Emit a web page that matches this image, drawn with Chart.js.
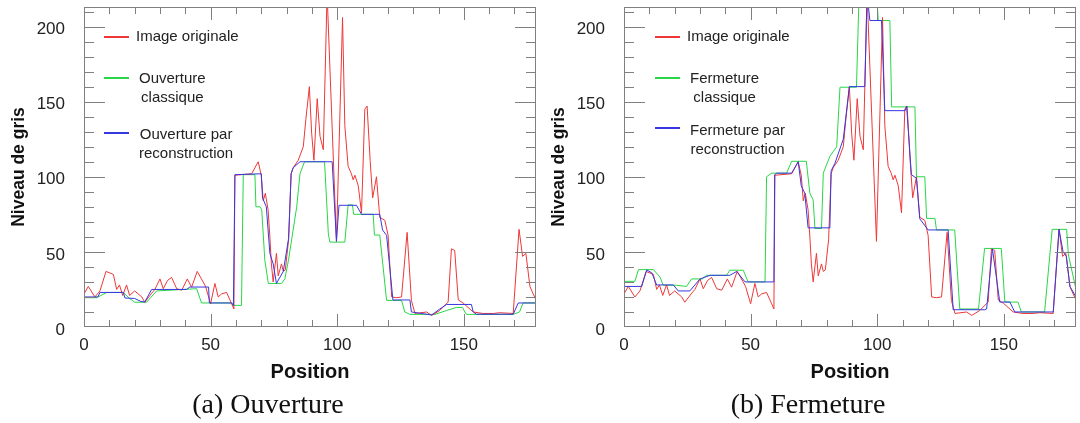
<!DOCTYPE html>
<html>
<head>
<meta charset="utf-8">
<script src="https://cdn.jsdelivr.net/npm/chart.js@4"></script>
<style>
  body { margin: 0; background: #fff; }
  .wrap { display: flex; width: 1080px; height: 423px; }
  canvas { display: block; }
</style>
</head>
<body>
<div class="wrap">
  <canvas id="chartA" width="540" height="423"></canvas>
  <canvas id="chartB" width="540" height="423"></canvas>
</div>
<script>
// original grey-level profile (shared by both plots)
const origX = [0, 1.7, 4.3, 6.3, 8.7, 11.6, 12.9, 14, 15.3, 16.8, 18, 20, 22.8, 24, 26.5, 28, 30, 31.3, 33, 34.6,
  36.6, 38.6, 40.8, 42.5, 44.7, 46.4, 48, 50, 51.7, 53, 54.3, 56.3, 58.3, 59.2, 59.6, 66.2, 68.8, 70, 70.8, 71.6,
  72.7, 73.4, 74, 74.7, 76, 76.7, 78, 78.7, 79.5, 80.8, 81.8, 82.6, 84.6, 86.6, 87.6, 89, 89.9, 90.8, 92.1, 93.2,
  94.5, 96, 99.7, 102.1, 103, 104.3, 105.6, 106.3, 107, 108.3, 109.6, 110.9, 111.8, 113, 114, 115.5, 116.8, 118.8, 120.1, 121.5,
  123.4, 125.4, 127.6, 129.3, 130.7, 135.3, 137.3, 140.5, 143.8, 145.1, 146.4, 147.8, 149.7, 153.7, 157.6, 161.6, 164.2, 169.5, 171.8, 173.2,
  174.5, 176.1, 177.4, 178.5];
const origY = [22, 27, 20, 24, 37, 35, 25, 28, 21, 28, 21, 24, 20, 16.5, 22, 25, 32, 25.5, 31, 33,
  25.5, 24.5, 32, 26.5, 37, 32, 27, 15.5, 29, 20, 22, 23, 15.5, 12, 101, 102, 110, 101, 84, 89,
  78, 60, 42, 30, 49, 34, 42, 37, 38, 58, 102, 106, 111, 120, 138, 160, 129, 111, 152, 127,
  118, 222, 57, 206, 134, 107, 102, 98, 101, 94, 76, 145, 147, 111, 86, 100, 73, 71, 61, 20,
  19.5, 20, 63, 17.7, 9, 10, 7.7, 11, 16.6, 52, 51, 18, 16, 10, 9, 9, 9.5, 9, 65, 47,
  49, 27, 22, 18];

// (a) ouverture classique
const openX = [0, 5, 9, 15.5, 18, 20, 24.7, 28.7, 44.5, 46.4, 58.3, 59, 62.2, 62.9, 67.5, 67.9, 69.5, 70.2, 71.4, 72.8,
  78, 79.3, 80.7, 84, 85.3, 87.1, 95, 96.5, 97.1, 103, 104.3, 106, 106.5, 114.2, 114.7, 116.8, 119.5, 125.4, 126.7, 128.7,
  138.6, 143.2, 147, 149.5, 150.4, 151, 169.5, 172, 173.4, 178.5];
const openY = [19.5, 19.5, 23, 23, 19, 16.5, 16.5, 24, 25.5, 16, 16, 14.4, 14.4, 101.4, 101.4, 80, 80, 78, 44.5, 29,
  29, 32, 44, 80, 102, 110, 110, 62, 56.5, 56.5, 81.3, 81.3, 75, 75, 61.2, 61.2, 17.7, 17.7, 10, 8.4,
  8.4, 11, 13, 13, 10, 8.4, 8.4, 10, 16, 16];

// (a) ouverture par reconstruction
const openRecX = [0, 5.5, 6.3, 15.5, 16.2, 20, 22.5, 24, 26.7, 40.5, 41.8, 49.2, 49.5, 58.3, 59, 59.6, 70, 70.5, 72, 73.4,
  74.7, 76, 78.7, 80.8, 81.8, 82.6, 85.3, 98, 99.7, 100.7, 107.6, 109.6, 116.8, 117.9, 119.5, 122, 128.7, 129.3, 137.3, 140.5,
  143.2, 153, 153.7, 155, 169.5, 171.5, 178.5];
const openRecY = [20, 20, 23, 23, 19.3, 19, 17, 16.6, 25, 25, 26.6, 26.6, 16, 16, 14.4, 101.4, 102, 86, 80, 49,
  42, 29, 37, 59, 102, 106, 110, 110, 57, 81, 81, 75, 75, 64.6, 61, 18, 18, 10, 8, 12,
  15, 15, 10, 8.5, 8.5, 16, 16];

// (b) fermeture classique
const closeX = [0, 4.3, 5.7, 11.6, 14.2, 15.5, 20.8, 24.7, 26.7, 31, 32.6, 40.5, 41.8, 47.1, 49, 55.7, 56.3, 58.3, 64.2, 66.2,
  72, 73.4, 74.7, 75.4, 78, 78.7, 81.3, 84, 85.3, 91.8, 92.9, 99.7, 100.4, 105, 105.7, 114.9, 115.5, 118.8, 119.5, 122.8,
  123.4, 130.6, 132.6, 140, 142.4, 149, 150.4, 155.6, 156.9, 166.1, 169.1, 174.8, 175.5, 178.5];
const closeY = [30.4, 30.4, 38.2, 38.2, 33.3, 27.8, 27.8, 27, 32, 32, 34.4, 34.4, 37.8, 37.8, 30, 30, 100, 102.4, 102.4, 110.3,
  110.3, 89, 84.6, 65.6, 65.6, 102.4, 113.6, 120, 159.6, 159.6, 225, 225, 204, 204, 146.5, 146.5, 100, 100, 72.3, 72.3,
  64.6, 64.6, 12, 12, 52.3, 52.3, 16.6, 16.6, 10, 10, 65, 65, 48, 25];

// (b) fermeture par reconstruction
const closeRecX = [0, 7, 9, 11, 12.9, 19.5, 21.4, 26, 28, 30, 34, 41.8, 44.5, 47.8, 59.2, 59.5, 60.3, 66.2, 68.8, 70,
  71.4, 72.7, 81.3, 81.8, 83.3, 86.6, 89, 95.1, 96, 97.1, 101.7, 103, 111, 111.6, 113.5, 115.5, 116.8, 120.1, 128, 130,
  142.5, 143.2, 145.5, 148.4, 152.4, 154.3, 169.5, 171.8, 173.4, 174.7, 176.1, 178.5];
const closeRecY = [27, 27, 38, 36, 28, 28, 24, 24, 28, 32, 34.4, 34.4, 37, 30, 30, 101.4, 102.4, 102.4, 110, 94,
  89, 66, 66, 104, 109, 125, 160, 160, 222, 204, 204, 144, 144, 147, 101.4, 99, 72, 64.6, 64.6, 11.5,
  11.5, 12, 52, 16.6, 16.6, 10, 10, 65, 50, 47, 27, 20];

const legendA = [['Image originale'], ['Ouverture', 'classique'], ['Ouverture par', 'reconstruction']];
const legendB = [['Image originale'], ['Fermeture', 'classique'], ['Fermeture par', 'reconstruction']];
const yTickStep = 50;
const xTickStep = 50;

Chart.defaults.font.family = '"Liberation Sans", Arial, sans-serif';
Chart.defaults.color = '#222';

const pts = (xs, ys) => xs.map((x, i) => ({x: x, y: ys[i]}));

// frame with inward minor / major ticks on all four sides
const frameTicks = {
  id: 'frameTicks',
  afterDatasetsDraw(chart) {
    const {ctx, chartArea: a, scales: {x, y}} = chart;
    ctx.save();
    ctx.strokeStyle = '#808080';
    ctx.lineWidth = 1;
    ctx.strokeRect(a.left + 0.5, a.top + 0.5, a.width - 1, a.height - 1);
    ctx.beginPath();
    for (let v = 10; v < x.max; v += 10) {
      const px = Math.round(x.getPixelForValue(v)) + 0.5;
      const len = v % 50 ? 7 : 13;
      ctx.moveTo(px, a.bottom); ctx.lineTo(px, a.bottom - len);
      ctx.moveTo(px, a.top); ctx.lineTo(px, a.top + len);
    }
    for (let v = 10; v < y.max; v += 10) {
      const py = Math.round(y.getPixelForValue(v)) + 0.5;
      const len = v % 50 ? 10 : 21;
      ctx.moveTo(a.left, py); ctx.lineTo(a.left + len, py);
      ctx.moveTo(a.right, py); ctx.lineTo(a.right - len, py);
    }
    ctx.stroke();
    ctx.restore();
  }
};

// legend drawn inside the plot, top-left
const insideLegend = {
  id: 'insideLegend',
  afterDraw(chart, args, opts) {
    const {ctx, chartArea: a} = chart;
    ctx.save();
    ctx.font = '15px "Liberation Sans", Arial, sans-serif';
    ctx.textBaseline = 'middle';
    ctx.fillStyle = '#222';
    opts.items.forEach((lines, i) => {
      const ds = chart.data.datasets[i];
      const y = a.top + opts.rows[i];
      const x0 = a.left + opts.lineStart;
      ctx.strokeStyle = ds.borderColor;
      ctx.lineWidth = 2;
      ctx.beginPath();
      ctx.moveTo(x0, y); ctx.lineTo(x0 + 25, y);
      ctx.stroke();
      if (lines.length === 1) {
        ctx.textAlign = 'left';
        ctx.fillText(lines[0], x0 + 32, y);
      } else {
        const w = Math.max(...lines.map(t => ctx.measureText(t).width));
        ctx.textAlign = 'center';
        lines.forEach((t, j) => ctx.fillText(t, x0 + 35 + w / 2, y + opts.textShift[i] + j * 19));
      }
    });
    ctx.restore();
  }
};

function makeChart(id, caption, greenX, greenY, blueX, blueY, legend, lineStart, rows, textShift) {
  new Chart(document.getElementById(id), {
    type: 'line',
    data: {
      datasets: [
        { label: legend[0].join(' '), data: pts(origX, origY), borderColor: 'rgb(238,55,55)', order: 1 },
        { label: legend[1].join(' '), data: pts(greenX, greenY), borderColor: 'rgb(40,215,70)', order: 2 },
        { label: legend[2].join(' '), data: pts(blueX, blueY), borderColor: 'rgb(55,55,225)', order: 0 }
      ]
    },
    options: {
      responsive: false,
      animation: false,
      datasets: {
        line: { borderWidth: 1, pointRadius: 0, tension: 0, fill: false }
      },
      layout: { padding: { top: 7, right: 4, left: 0, bottom: 0 } },
      plugins: {
        legend: { display: false },
        tooltip: { enabled: false },
        title: {
          display: true,
          position: 'bottom',
          text: caption,
          color: '#111',
          font: { family: '"Liberation Serif", "Times New Roman", serif', size: 28, weight: 'normal' },
          padding: { top: 4, bottom: 1 }
        },
        insideLegend: { items: legend, lineStart: lineStart, rows: rows, textShift: textShift }
      },
      scales: {
        x: {
          type: 'linear',
          min: 0,
          max: 178.5,
          grid: { display: false },
          border: { display: false },
          ticks: { stepSize: xTickStep, includeBounds: false, padding: 0, maxRotation: 0, font: { size: 17 } },
          title: {
            display: true,
            text: 'Position',
            color: '#111',
            font: { size: 20, weight: 'bold' },
            padding: { top: 0, bottom: 0 }
          },
          afterFit: (s) => { s.height = 57.4; s.paddingLeft = 0; s.paddingRight = 0; }
        },
        y: {
          min: 0,
          max: 213,
          grid: { display: false },
          border: { display: false },
          ticks: { stepSize: yTickStep, includeBounds: false, padding: 11, labelOffset: 3, font: { size: 17 } },
          title: {
            display: true,
            text: 'Niveau de gris',
            color: '#111',
            font: { size: 17.5, weight: 'bold' },
            padding: { top: 9, bottom: 0 }
          },
          afterFit: (s) => { s.width = 84; s.paddingTop = 0; s.paddingBottom = 0; }
        }
      }
    },
    plugins: [frameTicks, insideLegend]
  });
}

makeChart('chartA', '(a) Ouverture', openX, openY, openRecX, openRecY, legendA, 20, [30, 71, 126], [0, 1, 2]);
makeChart('chartB', '(b) Fermeture', closeX, closeY, closeRecX, closeRecY, legendB, 31, [30, 71, 121], [0, 1, 3]);
</script>
</body>
</html>
